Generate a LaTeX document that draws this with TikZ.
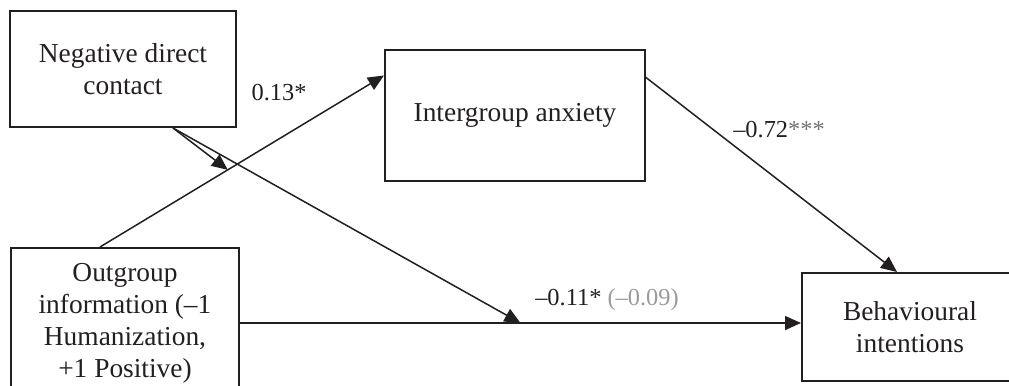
\documentclass[tikz,border=0pt]{standalone}
\usepackage{fontspec}
\setmainfont{Liberation Serif}
\usetikzlibrary{arrows.meta, positioning, calc}
\definecolor{inkblk}{HTML}{231F20}
\definecolor{coefgray}{HTML}{9A9A9A}

\begin{document}
\begin{tikzpicture}[x=0.5pt, y=-0.5pt, >={Triangle[length=8pt, width=7pt]}, line width=0.75pt, draw=inkblk,
  box/.style={draw=inkblk, line width=1pt, align=center, inner sep=2pt,
    font=\fontsize{13.7}{16}\selectfont, text=inkblk},
  coef/.style={font=\fontsize{12.2}{14}\selectfont, text=inkblk, inner sep=0pt}]

\useasboundingbox (0,0) rectangle (1009,386);

% Variables
\node[box, minimum width=113pt, minimum height=58pt] (neg) at (123,69) {Negative direct\\contact};
\node[box, minimum width=130pt, minimum height=65.5pt] (anx) at (515,115.5) {Intergroup anxiety};
\node[box, minimum width=114pt, minimum height=75pt] (out) at (125,323)
  {Outgroup\\information (--1\\Humanization,\\+1 Positive)};
\node[box, minimum width=108pt, minimum height=54pt] (beh) at (910,327) {Behavioural\\intentions};

% --- Paths ---
\draw[->] ([xshift=-12.5pt]out.north) -- ([yshift=20pt]anx.west) coordinate[pos=0.45] (midA);
\draw[->] ([yshift=19pt]anx.east) -- ([xshift=-6.5pt]beh.north);
\draw[->] (out.east) -- (out.east -| beh.west) coordinate[pos=0.5] (midB);

% Moderation by negative contact
\draw[->] ([xshift=25pt]neg.south) -- (midA);
\draw[->] ([xshift=25pt]neg.south) -- (midB);

% --- Coefficients ---
\node[coef] (c1) at (279,93) {0.13*};
\node[coef] (c2) at (779,130) {--0.72\textcolor{black!55}{***}};
\node[coef] (c3) at (607,300) {--0.11* \textcolor{coefgray}{(--0.09)}};

\end{tikzpicture}
\end{document}
